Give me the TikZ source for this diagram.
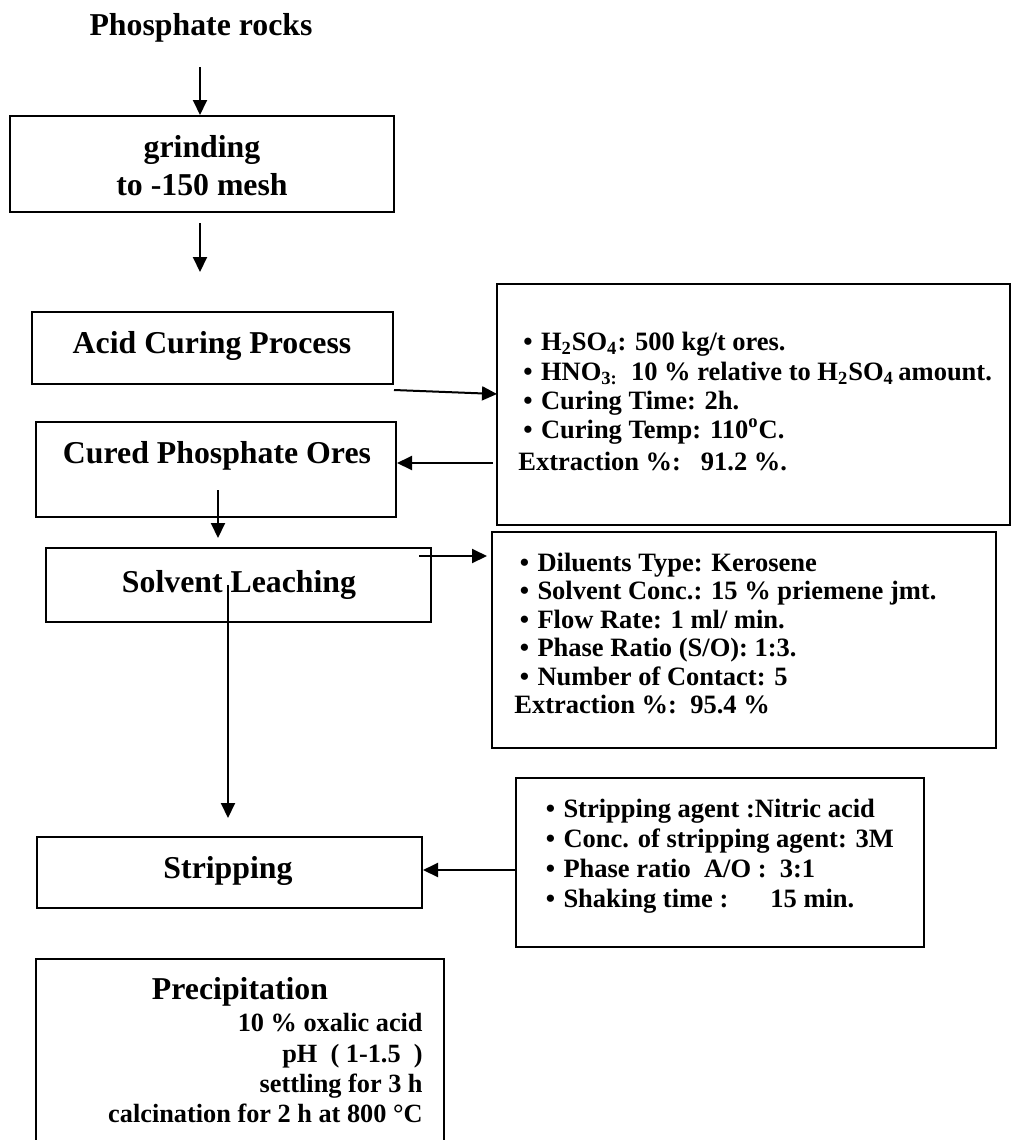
\documentclass[tikz,border=0pt]{standalone}
\usepackage{fontspec}
\setmainfont{Liberation Serif}
\usetikzlibrary{arrows.meta,fit}
\tikzset{
  box/.style={draw, line width=1pt, inner sep=0pt, rectangle},
  arr/.style={line width=1pt, -{Triangle[length=7.5pt,width=7pt]}},
  big/.style={font=\fontsize{15.9}{19}\selectfont\bfseries, inner sep=0pt, anchor=base},
  small/.style={font=\fontsize{13.25}{16}\selectfont\bfseries, inner sep=0pt, anchor=base west},
  smallr/.style={font=\fontsize{13.15}{16}\selectfont\bfseries, inner sep=0pt, anchor=base east},
}
\newcommand\bul{\makebox[8.8pt][l]{\textbullet}}
\begin{document}
\begin{tikzpicture}[x=0.5pt,y=-0.5pt]
\useasboundingbox (0,0) rectangle (1011,1140);

% main flow
\node[big] (t0) at (201,35) {Phosphate rocks};
\node[box, fit={(10,116)(394,212)}] (grind) {};
\node[big] (t1a) at (202,157) {grinding};
\node[big] (t1b) at (202,195) {to -150 mesh};
\coordinate (a1s) at (200,67);
\draw[arr] (a1s) -- (a1s |- grind.north);
\coordinate (a2s) at (200,223);
\coordinate (a2e) at (200,272);
\draw[arr] (a2s) -- (a2e);

\node[box, fit={(32,312)(393,384)}] (acid) {};
\node[big] (t2) at (212,353) {Acid Curing Process};

% box 1
\node[box, fit={(497,284)(1010,525)}] (p1) {};
\node[small] (p1a) at (523,350) {\bul H\textsubscript{2}SO\textsubscript{4}: 500 kg/t ores.};
\node[small] (p1b) at (523,380) {\bul HNO\textsubscript{3:}\ \ 10 \% relative to H\textsubscript{2}SO\textsubscript{4}\,amount.};
\node[small] (p1c) at (523,409) {\bul Curing Time: 2h.};
\node[small] (p1d) at (523,438) {\bul Curing Temp: 110\textsuperscript{o}C.};
\node[small] (p1e) at (518,470) {Extraction \%:\ \ \ 91.2 \%.};
\coordinate (a3s) at (394,390);
\coordinate (a3e) at (497,394);
\draw[arr] (a3s) -- (a3e);

\node[box, fit={(36,422)(396,517)}] (cured) {};
\node[big] (t3) at (217,463) {Cured Phosphate Ores};
\coordinate (a4s) at (493,463);
\draw[arr] (a4s) -- (a4s -| cured.east);
\coordinate (a5s) at (218,490);
\coordinate (a5e) at (218,538);
\draw[arr] (a5s) -- (a5e);

\node[box, fit={(46,548)(431,622)}] (solv) {};
\node[big] (t4) at (239,592) {Solvent Leaching};

% box 2
\node[box, fit={(492,532)(996,748)}] (p2) {};
\node[small] (p2a) at (519.5,571) {\bul Diluents Type: Kerosene};
\node[small] (p2b) at (519.5,599.5) {\bul Solvent Conc.: 15 \% priemene jmt.};
\node[small] (p2c) at (519.5,628) {\bul Flow Rate: 1 ml/ min.};
\node[small] (p2d) at (519.5,656.5) {\bul Phase Ratio (S/O): 1:3.};
\node[small] (p2e) at (519.5,685) {\bul Number of Contact: 5};
\node[small] (p2f) at (514,713.5) {Extraction \%:\ \ 95.4 \%};
\coordinate (a6s) at (419,556);
\coordinate (a6e) at (487,556);
\draw[arr] (a6s) -- (a6e);

\coordinate (a8s) at (228,585);
\coordinate (a8e) at (228,818);
\draw[arr] (a8s) -- (a8e);

\node[box, fit={(37,837)(422,908)}] (strip) {};
\node[big] (t5) at (228,878) {Stripping};

% box 3
\node[box, fit={(516,778)(924,947)}] (p3) {};
\node[small] (p3a) at (545.5,817) {\bul Stripping agent :Nitric acid};
\node[small] (p3b) at (545.5,847) {\bul Conc. of stripping agent: 3M};
\node[small] (p3c) at (545.5,877) {\bul Phase ratio\ \ A/O :\ \ 3:1};
\node[small] (p3d) at (545.5,907) {\bul Shaking time :\hspace{21pt}15 min.};
\coordinate (a7s) at (516,870);
\draw[arr] (a7s) -- (a7s -| strip.east);

% precipitation
\node[box, fit={(36,959)(444,1170)}] (prec) {};
\node[big] (t6) at (240,999) {Precipitation};
\node[smallr] (q1) at (423,1031) {10 \% oxalic acid};
\node[smallr] (q2) at (423,1062) {pH\ \ ( 1-1.5\ \ )};
\node[smallr] (q3) at (423,1092) {settling for 3 h};
\node[smallr] (q4) at (423,1122) {calcination for 2 h at 800 °C};
\end{tikzpicture}
\end{document}
